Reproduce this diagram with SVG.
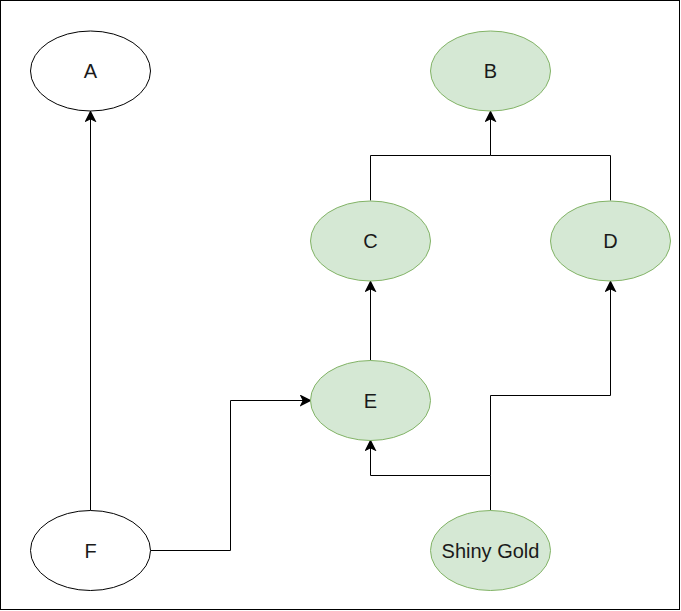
<svg xmlns="http://www.w3.org/2000/svg" width="681" height="611" viewBox="0 0 681 611">
<style>
.w{fill:#ffffff;stroke:#000000;stroke-width:1}
.g{fill:#d5e8d4;stroke:#82b366;stroke-width:1}
.t{font-family:"Liberation Sans",Arial,sans-serif;font-size:20px;fill:#1a1a1a;text-anchor:middle}
.e{fill:none;stroke:#000000;stroke-width:1}
</style>
<defs>
<marker id="arr" markerUnits="userSpaceOnUse" markerWidth="12" markerHeight="12" viewBox="-9 -5 10 10" refX="0" refY="0" orient="auto">
<path d="M0,0 L-8,-4 L-6,0 L-8,4 Z" fill="#000000" stroke="#000000" stroke-width="1"/>
</marker>
</defs>
<rect x="0.5" y="0.5" width="679" height="609" fill="#ffffff" stroke="#000000" stroke-width="1"/>
<g id="connectors">
<path class="e" d="M90.5,510.5 L90.5,111.5" marker-end="url(#arr)"/>
<path class="e" d="M370.5,200.5 L370.5,155.5 L490.5,155.5 L490.5,111.5" marker-end="url(#arr)"/>
<path class="e" d="M610.5,200.5 L610.5,155.5 L490.5,155.5"/>
<path class="e" d="M370.5,360.5 L370.5,281.5" marker-end="url(#arr)"/>
<path class="e" d="M150.5,550.5 L230.5,550.5 L230.5,400.5 L310.5,400.5" marker-end="url(#arr)"/>
<path class="e" d="M490.5,510.5 L490.5,475.5 L370.5,475.5 L370.5,440.5" marker-end="url(#arr)"/>
<path class="e" d="M490.5,475.5 L490.5,395.5 L610.5,395.5 L610.5,281.5" marker-end="url(#arr)"/>
</g>
<g id="A"><ellipse class="w" cx="90.5" cy="71" rx="60" ry="40"/><text class="t" x="90.5" y="78">A</text></g>
<g id="B"><ellipse class="g" cx="490.5" cy="71" rx="60" ry="40"/><text class="t" x="490.5" y="78">B</text></g>
<g id="C"><ellipse class="g" cx="370.5" cy="241" rx="60" ry="40"/><text class="t" x="370.5" y="248">C</text></g>
<g id="D"><ellipse class="g" cx="610.5" cy="241" rx="60" ry="40"/><text class="t" x="610.5" y="248">D</text></g>
<g id="E"><ellipse class="g" cx="370.5" cy="400.5" rx="60" ry="40"/><text class="t" x="370.5" y="408">E</text></g>
<g id="F"><ellipse class="w" cx="90.5" cy="550.5" rx="60" ry="40"/><text class="t" x="90.5" y="558">F</text></g>
<g id="ShinyGold"><ellipse class="g" cx="490.5" cy="550.5" rx="60" ry="40"/><text class="t" x="490.5" y="558">Shiny Gold</text></g>
</svg>
